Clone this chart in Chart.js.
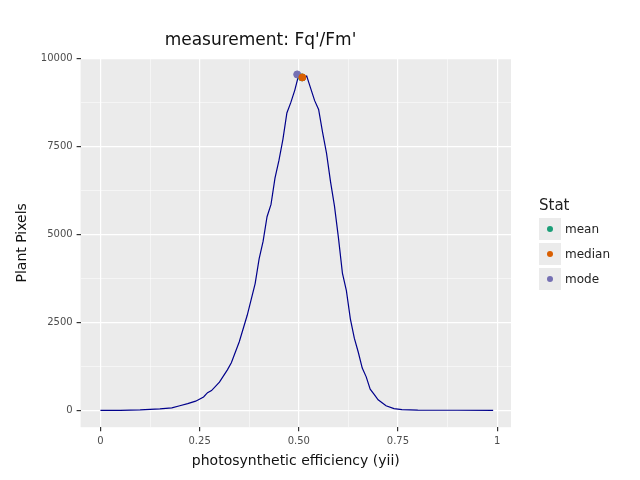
<!DOCTYPE html>
<html>
<head>
<script src="https://cdn.jsdelivr.net/npm/chart.js@4"></script>
<style>
  body { margin: 0; background: #fff; font-family: "DejaVu Sans", sans-serif; }
  #wrap { position: relative; width: 640px; height: 480px; }
  #legend { position: absolute; left: 539px; top: 196px; font-size: 12px; color: #222; }
  #legend .t { font-size: 15px; margin-bottom: 3px; }
  #legend .row { display: flex; align-items: center; height: 24px; margin-bottom: 1px; }
  #legend .key { width: 22px; height: 22px; background: #ebebeb; display: flex; align-items: center; justify-content: center; margin-right: 4px; }
  #legend .dot { width: 6px; height: 6px; border-radius: 50%; }
</style>
</head>
<body>
<div id="wrap">
  <canvas id="c" width="640" height="480"></canvas>
  <div id="legend">
    <div class="t">Stat</div>
    <div class="row"><div class="key"><div class="dot" style="background:#1b9e77"></div></div>mean</div>
    <div class="row"><div class="key"><div class="dot" style="background:#d95f02"></div></div>median</div>
    <div class="row"><div class="key"><div class="dot" style="background:#7570b3"></div></div>mode</div>
  </div>
</div>
<script>
const efficiency = [0, 0.05, 0.1, 0.15, 0.18, 0.2, 0.22, 0.24, 0.26, 0.27, 0.28, 0.3, 0.32, 0.33, 0.35, 0.37, 0.39, 0.4, 0.41, 0.42, 0.43, 0.44, 0.45, 0.46, 0.47, 0.48, 0.49, 0.5, 0.51, 0.52, 0.53, 0.54, 0.55, 0.56, 0.57, 0.58, 0.59, 0.6, 0.61, 0.62, 0.63, 0.64, 0.65, 0.66, 0.67, 0.68, 0.69, 0.7, 0.72, 0.74, 0.76, 0.8, 0.9, 0.99];
const pixels = [0, 0, 10, 40, 70, 130, 190, 260, 380, 500, 560, 800, 1150, 1350, 1950, 2700, 3600, 4300, 4800, 5500, 5850, 6600, 7100, 7700, 8450, 8750, 9100, 9540, 9400, 9500, 9150, 8800, 8550, 7900, 7300, 6500, 5800, 4900, 3900, 3400, 2600, 2050, 1650, 1200, 950, 600, 450, 300, 130, 50, 20, 5, 2, 0];
const statNames = ['mean', 'median', 'mode'];
const statX = [0.508, 0.509, 0.496];
const statY = [9460, 9460, 9545];
const statColors = ['#1b9e77', '#d95f02', '#7570b3'];
const statOrder = [3, 1, 2];
const xTicks = [0, 0.25, 0.5, 0.75, 1];
const xTickLabels = ['0', '0.25', '0.50', '0.75', '1'];
const yTicks = [0, 2500, 5000, 7500, 10000];

const bgPlugin = {
  id: 'bg',
  beforeDraw(chart) {
    const a = chart.chartArea, ctx = chart.ctx;
    ctx.save(); ctx.fillStyle = '#ebebeb';
    ctx.fillRect(a.left, a.top, a.right - a.left, a.bottom - a.top);
    ctx.restore();
  }
};

function withMinor(major) {
  const out = [];
  major.forEach((v, i) => {
    out.push({ value: v, major: true });
    if (i < major.length - 1) out.push({ value: (v + major[i + 1]) / 2, major: false });
  });
  return out;
}

const datasets = [{
  type: 'line', order: 4,
  data: efficiency.map((x, i) => ({ x: x, y: pixels[i] })),
  borderColor: '#00008b', borderWidth: 1.2, pointRadius: 0, tension: 0
}];
statNames.forEach((n, i) => datasets.push({
  type: 'scatter', label: n, order: statOrder[i],
  data: [{ x: statX[i], y: statY[i] }],
  backgroundColor: statColors[i], borderColor: statColors[i], pointRadius: 3.5
}));

new Chart(document.getElementById('c'), {
  type: 'scatter',
  data: { datasets: datasets },
  plugins: [bgPlugin],
  options: {
    responsive: false, animation: false,
    layout: { padding: { left: 10, right: 129, top: 0, bottom: 0 } },
    plugins: {
      legend: { display: false },
      tooltip: { enabled: false },
      title: { display: true, text: "measurement: Fq'/Fm'", color: '#111', font: { size: 17, family: 'DejaVu Sans', weight: 'normal' }, padding: { top: 30, bottom: 8 } }
    },
    scales: {
      x: {
        type: 'linear', min: -0.05, max: 1.035,
        afterBuildTicks: s => { s.ticks = withMinor(xTicks); },
        ticks: { color: '#4d4d4d', font: { size: 10, family: 'DejaVu Sans' }, padding: 4,
          callback: (v, i, t) => t[i].major ? xTickLabels[xTicks.indexOf(v)] : '' },
        grid: { color: '#fff', lineWidth: c => c.tick && c.tick.major ? 1.2 : 0.5, drawTicks: true, tickLength: 4,
          tickColor: c => c.tick && c.tick.major ? '#333' : 'rgba(0,0,0,0)' },
        border: { display: false },
        title: { display: true, text: 'photosynthetic efficiency (yii)', color: '#111', font: { size: 14, family: 'DejaVu Sans' }, padding: { top: 2, bottom: 10 } }
      },
      y: {
        type: 'linear', min: -480, max: 10000,
        afterBuildTicks: s => { s.ticks = withMinor(yTicks); },
        ticks: { color: '#4d4d4d', font: { size: 10, family: 'DejaVu Sans' }, padding: 4,
          callback: (v, i, t) => t[i].major ? String(v) : '' },
        grid: { color: '#fff', lineWidth: c => c.tick && c.tick.major ? 1.2 : 0.5, drawTicks: true, tickLength: 4,
          tickColor: c => c.tick && c.tick.major ? '#333' : 'rgba(0,0,0,0)' },
        border: { display: false },
        title: { display: true, text: 'Plant Pixels', color: '#111', font: { size: 14, family: 'DejaVu Sans' }, padding: { top: 4, bottom: 6 } }
      }
    }
  }
});
</script>
</body>
</html>
